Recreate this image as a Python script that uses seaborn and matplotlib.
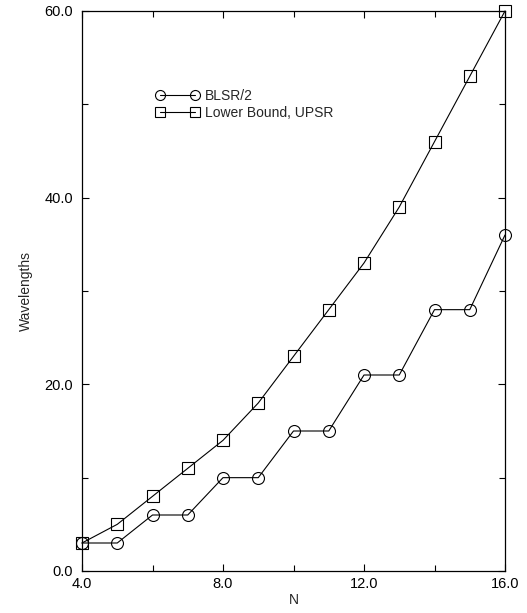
import matplotlib
matplotlib.use("Agg")
import matplotlib.pyplot as plt
import seaborn as sns
import pandas as pd
from matplotlib.ticker import MultipleLocator, FormatStrFormatter
from matplotlib.lines import Line2D

N = [4, 5, 6, 7, 8, 9, 10, 11, 12, 13, 14, 15, 16]
blsr_half = [3, 3, 6, 6, 10, 10, 15, 15, 21, 21, 28, 28, 36]
lower_upsr = [3, 5, 8, 11, 14, 18, 23, 28, 33, 39, 46, 53, 60]
series_names = ["BLSR/2", "Lower Bound, UPSR"]

sns.set_theme(style="white")
plt.rcParams['font.family'] = ['Liberation Sans', 'DejaVu Sans']

df = pd.concat([
    pd.DataFrame({"N": N, "Wavelengths": blsr_half, "series": series_names[0]}),
    pd.DataFrame({"N": N, "Wavelengths": lower_upsr, "series": series_names[1]}),
])

W, H = 527, 613
L, R, T, B = 82, 505, 11, 571
fig = plt.figure(figsize=(W / 100, H / 100), dpi=100)
ax = fig.add_axes([L / W, 1 - B / H, (R - L) / W, (B - T) / H])

sns.lineplot(data=df, x="N", y="Wavelengths", hue="series", style="series",
             markers={"BLSR/2": "o", "Lower Bound, UPSR": "s"}, dashes=False,
             palette={"BLSR/2": "black", "Lower Bound, UPSR": "black"},
             ax=ax, linewidth=0.8, markersize=8.6, legend=False,
             markeredgecolor="black", markeredgewidth=0.8)

for line in ax.lines:
    line.set_markerfacecolor("none")
    line.set_clip_on(False)

ax.set_xlim(4, 16)
ax.set_ylim(0, 60)
ax.xaxis.set_major_locator(MultipleLocator(4))
ax.xaxis.set_minor_locator(MultipleLocator(2))
ax.yaxis.set_major_locator(MultipleLocator(20))
ax.yaxis.set_minor_locator(MultipleLocator(10))
ax.xaxis.set_major_formatter(FormatStrFormatter("%.1f"))
ax.yaxis.set_major_formatter(FormatStrFormatter("%.1f"))
ax.tick_params(which="both", direction="in", top=True, right=True, bottom=True, left=True,
               labelsize=10.5, colors="black", width=0.8)
ax.tick_params(which="major", length=5)
ax.tick_params(which="minor", length=4)
ax.tick_params(axis="y", which="major", pad=6.5)
ax.tick_params(axis="x", which="major", pad=4)
for s in ax.spines.values():
    s.set_color("black")
    s.set_linewidth(0.9)
ax.set_xlabel("N", fontsize=10, labelpad=2)
ax.set_ylabel("Wavelengths", fontsize=10, labelpad=8)

handles = [Line2D([], [], color="black", lw=0.8, marker=m, markersize=7.2,
                  markerfacecolor="none", markeredgewidth=0.8) for m in ["o", "s"]]
fs_px = 10 * 100 / 72
leg_left = 160 - 0.3 * fs_px
leg_top = 89
ax.legend(handles, series_names, loc="upper left",
          bbox_to_anchor=((leg_left - L) / (R - L), (B - leg_top) / (B - T)),
          frameon=False, fontsize=10, numpoints=2, handlelength=3.1, handletextpad=0.45,
          labelspacing=0.2, borderpad=0, borderaxespad=0)

fig.savefig("out.png", dpi=100)
